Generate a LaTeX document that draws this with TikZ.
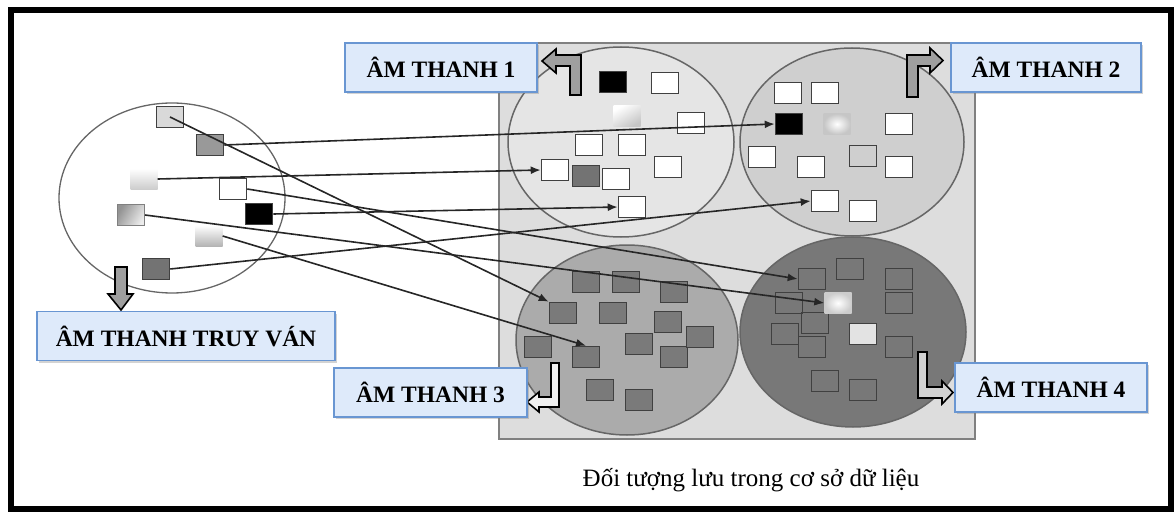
\documentclass[tikz,border=0pt]{standalone}
\usepackage{fontspec}
\setmainfont{Liberation Serif}
\usepackage{tikz}
\usetikzlibrary{arrows.meta, positioning, shadows}
\definecolor{tagfill}{RGB}{222,234,250}
\definecolor{tagline}{RGB}{105,150,210}

\tikzset{
    tag/.style={draw=tagline, fill=tagfill, line width=1.5pt, minimum height=49pt,
        inner sep=0pt, font=\fontsize{23.5}{25}\selectfont\bfseries,
        drop shadow={opacity=0.35, shadow xshift=2pt, shadow yshift=-2pt}},
    obj/.style={draw=black!75, line width=1.6pt, minimum width=27pt, minimum height=21pt, inner sep=0pt},
    soft/.style={minimum width=27pt, minimum height=21pt, inner sep=0pt},
    link/.style={line width=1.6pt, black!85, -{Latex[length=10pt, width=8pt]}},
    bent/.style={draw=black, line width=1.6pt, line join=miter}
}

\begin{document}
\begin{tikzpicture}[x=1pt, y=-1pt]
    \useasboundingbox (0,0) rectangle (1175,513);

    % Frame
    \draw[line width=5.5pt] (11,10) rectangle (1171,509);

    % Database area and the four groups
    \draw[fill=gray!27, draw=gray, line width=1.2pt] (499,43) rectangle (975,439);
    \draw[fill=gray!20, draw=black!60, line width=1.5pt] (621,142) ellipse [x radius=113, y radius=95];
    \draw[fill=gray!38, draw=black!60, line width=1.5pt] (852,142) ellipse [x radius=112, y radius=94];
    \draw[fill=gray!66, draw=black!60, line width=1.5pt] (627,340) ellipse [x radius=111, y radius=95];
    \draw[fill=black!53, draw=black!60, line width=1.5pt] (853,332) ellipse [x radius=113, y radius=95];

    % Query group
    \draw[fill=white, draw=black!60, line width=1.3pt] (172,198) ellipse [x radius=113, y radius=95];

    % Squares in sound 1
    \node[obj, fill=black] (k1) at (613,82) {};
    \node[soft, top color=white, bottom color=gray!45, shading angle=30] (g1) at (627,116) {};
    \node[obj, fill=black!55] (d1) at (586,176) {};
    \foreach \p [count=\i] in {(665,83), (691,123), (589,145), (632,145), (616,179), (668,167)}
        \node[obj, fill=white] (w1-\i) at \p {};
    \node[obj, fill=white] (t1a) at (555,170) {};
    \node[obj, fill=white] (t1b) at (632,207) {};

    % Squares in sound 2
    \foreach \p [count=\i] in {(788,93), (825,93), (899,124), (762,157), (811,167), (899,167), (863,211)}
        \node[obj, fill=white] (w2-\i) at \p {};
    \node[obj] (e2) at (863,156) {};
    \node[soft, inner color=white, outer color=gray!45] (g2) at (837,124) {};
    \node[obj, fill=black] (t2a) at (789,124) {};
    \node[obj, fill=white] (t2b) at (825,201) {};

    % Squares in sound 3
    \foreach \p [count=\i] in {(586,282), (626,282), (674,292), (613,313), (668,322), (538,347),
        (639,344), (674,357), (700,337), (600,390), (639,400)}
        \node[obj, fill=black!52] (d3-\i) at \p {};
    \node[obj, fill=black!52] (t3a) at (563,313) {};
    \node[obj, fill=black!52] (t3b) at (586,357) {};

    % Squares in sound 4
    \foreach \p [count=\i] in {(850,269), (899,279), (899,303), (789,303), (815,323), (785,334),
        (812,347), (899,347), (825,381), (863,390)}
        \node[obj] (o4-\i) at \p {};
    \node[obj, fill=gray!22] (l4) at (863,334) {};
    \node[obj] (t4a) at (812,279) {};
    \node[soft, inner color=white, outer color=gray!40] (t4b) at (838,303) {};

    % Query squares
    \node[obj, fill=gray!30] (q1) at (170,117) {};
    \node[obj, fill=gray!80] (q2) at (210,145) {};
    \node[soft, top color=white, bottom color=gray!40] (q3) at (144,179) {};
    \node[obj, fill=white] (q4) at (233,189) {};
    \node[obj, fill=black] (q5) at (259,214) {};
    \node[soft, draw=gray, line width=1pt, left color=gray!85, right color=gray!15, shading angle=60] (q6) at (131,215) {};
    \node[soft, top color=white, bottom color=gray!60] (q7) at (209,236) {};
    \node[obj, fill=black!55] (q8) at (156,269) {};

    % Links from query to stored objects
    \draw[link] (q1.center) -- (t3a.north west);
    \draw[link] (q2.east) -- (t2a.west);
    \draw[link] (q3.east) -- (t1a.west);
    \draw[link] (q4.east) -- (t4a.west);
    \draw[link] (q5.east) -- (t1b.west);
    \draw[link] (q6.east) -- (t4b.west);
    \draw[link] (q7.east) -- (t3b.north);
    \draw[link] (q8.east) -- (t2b.west);

    % Bent arrows
    \filldraw[bent, fill=gray!75] (581,95) -- (581,55) -- (556,55) -- (556,49) -- (542,61) -- (556,73)
        -- (556,66) -- (570,66) -- (570,95) -- cycle;
    \filldraw[bent, fill=gray!75] (907,97) -- (907,55) -- (930,55) -- (930,48) -- (943,60.5) -- (930,73)
        -- (930,66) -- (918,66) -- (918,97) -- cycle;
    \filldraw[bent, fill=gray!75] (115,267) -- (127,267) -- (127,294) -- (133,294) -- (121,310)
        -- (108,294) -- (115,294) -- cycle;
    \filldraw[bent, fill=gray!12] (551,363) -- (559,363) -- (559,407) -- (539,407) -- (539,412)
        -- (527,402) -- (539,392) -- (539,397) -- (551,397) -- cycle;
    \filldraw[bent, fill=gray!35] (918,352) -- (927,352) -- (927,387) -- (942,387) -- (942,381)
        -- (953,392.5) -- (942,404) -- (942,398) -- (918,398) -- cycle;

    % Labels
    \node[tag, minimum width=192pt] (s1) at (441,67.5) {ÂM THANH 1};
    \node[tag, minimum width=190pt] (s2) at (1046,67.5) {ÂM THANH 2};
    \node[tag, minimum width=298pt] (sq) at (186,336) {ÂM THANH TRUY VÁN};
    \node[tag, minimum width=193pt] (s3) at (430.5,392.5) {ÂM THANH 3};
    \node[tag, minimum width=192pt] (s4) at (1051,387.5) {ÂM THANH 4};

    % Caption
    \node[font=\fontsize{25}{28}\selectfont] (cap) at (751,480) {Đối tượng lưu trong cơ sở dữ liệu};
\end{tikzpicture}
\end{document}
